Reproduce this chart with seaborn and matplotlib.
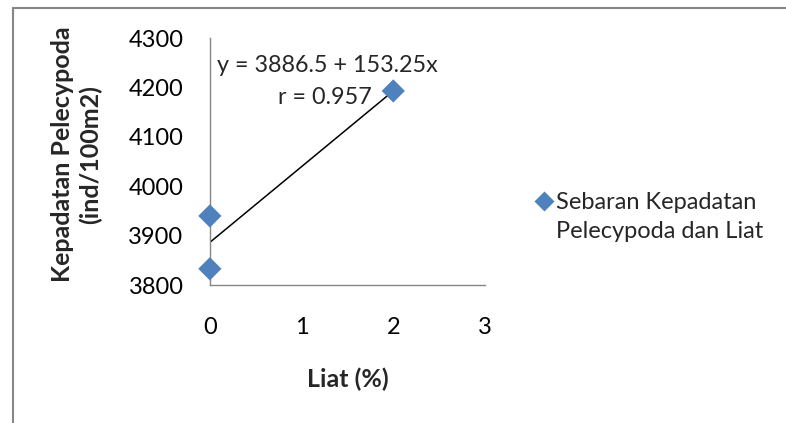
import matplotlib
matplotlib.use("Agg")
import matplotlib.pyplot as plt
import seaborn as sns
import pandas as pd
from matplotlib.lines import Line2D
from matplotlib.legend_handler import HandlerLine2D

liat = [0, 0, 2]
kepadatan = [3940, 3833, 4193]
series_name = "Sebaran Kepadatan\nPelecypoda dan Liat"
x_ticks = [0, 1, 2, 3]
y_ticks = [3800, 3900, 4000, 4100, 4200, 4300]
equation = "y = 3886.5 + 153.25x"
r_text = "r = 0.957"

sns.set_theme(style="white")
plt.rcParams['font.family'] = ['Lato', 'DejaVu Sans']

df = pd.DataFrame({"Liat": liat, "Kepadatan": kepadatan, "series": series_name})

fig = plt.figure(figsize=(7.86, 4.23), dpi=100)
ax = fig.add_axes([0.267, 0.326, 0.350, 0.584])

sns.regplot(data=df, x="Liat", y="Kepadatan", scatter=False, ci=None, ax=ax,
            line_kws=dict(color="black", lw=1.1))
sns.scatterplot(data=df, x="Liat", y="Kepadatan", hue="series", palette=["#4F81BD"],
                marker="D", s=140, edgecolor="none", ax=ax, zorder=5, clip_on=False)

ax.set_xlim(0, 3)
ax.set_ylim(3800, 4300)
ax.set_xticks(x_ticks)
ax.set_yticks(y_ticks)
ax.tick_params(axis="both", labelsize=17, colors="#868686", length=6, width=1,
               direction="out", labelcolor="black")
ax.tick_params(axis="x", pad=17)
ax.tick_params(axis="y", pad=13)
for s in ["top", "right"]:
    ax.spines[s].set_visible(False)
for s in ["left", "bottom"]:
    ax.spines[s].set_color("#868686")
    ax.spines[s].set_linewidth(1)

ax.set_xlabel("Liat (%)", fontsize=18, fontweight="bold", labelpad=21)
ax.set_ylabel("Kepadatan Pelecypoda\n(ind/100m2)", fontsize=18, fontweight="bold",
              labelpad=18, linespacing=1.25)
ax.yaxis.set_label_coords(-0.39, 0.53)


class TopAlignedHandler(HandlerLine2D):
    def create_artists(self, legend, orig_handle, xdescent, ydescent, width, height,
                       fontsize, trans):
        return super().create_artists(legend, orig_handle, xdescent,
                                      ydescent - 1.38 * fontsize, width, height,
                                      fontsize, trans)


ax.text(0.076, 4245, equation, fontsize=16.8, ha="left", va="center")
ax.text(1.77, 4180, r_text, fontsize=16.8, ha="right", va="center")

handles, labels = ax.get_legend_handles_labels()
for h in handles:
    h.set_marker("D")
leg = ax.legend(handles, labels, loc="center left", bbox_to_anchor=(1.13, 0.275),
                frameon=False, fontsize=17, handletextpad=0.05, handlelength=0.95,
                markerscale=0.9, borderpad=0,
                handler_map={type(handles[0]): TopAlignedHandler()})
for t in leg.get_texts():
    t.set_linespacing(1.5)

fig.add_artist(Line2D([13/786, 13/786], [0, 1 - 8/423], transform=fig.transFigure,
                      color="#868686", lw=1.5))
fig.add_artist(Line2D([13/786, 1], [1 - 8/423, 1 - 8/423], transform=fig.transFigure,
                      color="#868686", lw=1.5))

fig.savefig("out.png", dpi=100)
